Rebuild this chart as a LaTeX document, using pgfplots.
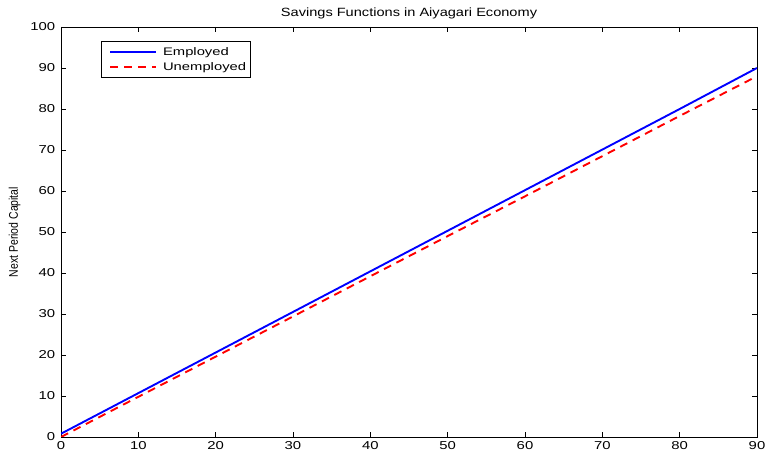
\documentclass[border=0pt]{standalone}
\usepackage{pgfplots}
\pgfplotsset{compat=1.18}
\usepackage{fontspec}
\setmainfont{Liberation Sans}
\definecolor{mblue}{rgb}{0,0,1}
\definecolor{mred}{rgb}{1,0,0}
\pgfplotsset{mylegline/.style={legend image code/.code={\path[draw=none, fill=none] (0bp,0bp) -- (58bp,0bp);\draw[#1, line width=2pt, line cap=butt] (7bp,0bp) -- (53bp,0bp);}}}
\begin{document}
\begin{tikzpicture}
\begin{axis}[
  scale only axis,
  width=696bp, height=410bp,
  xmin=0, xmax=90, ymin=0, ymax=100,
  xtick={0,10,...,90}, ytick={0,10,...,100},
  tick align=inside,
  major tick length=5bp,
  axis line style={line width=0.8pt},
  tick style={line width=0.5pt, black},
  /pgf/number format/assume math mode=true,
  ticklabel style={font=\fontsize{11.5}{13}\selectfont, xscale=1.3},
  yticklabel style={xshift=-1bp},
  xticklabel style={yshift=-1bp},
  title={Savings Functions in Aiyagari Economy},
  title style={font=\fontsize{12}{14}\selectfont, xscale=1.22, yshift=-1bp},
  ylabel={Next Period Capital},
  ylabel style={font=\fontsize{10.5}{12}\selectfont, yscale=1.2, yshift=1bp},
  legend style={at={(0.057,0.966)}, anchor=north west, draw=black, thick,
    font=\fontsize{11}{13}\selectfont, inner xsep=2pt, inner ysep=4pt, row sep=1.5pt,
    cells={anchor=west}},
  legend cell align=left,
  mylegline,
]
\addlegendimage{mylegline, color=mblue}
\addlegendentry{\scalebox{1.35}[1]{Employed}}
\addlegendimage{mylegline, color=mred, dash pattern=on 8bp off 6bp}
\addlegendentry{\scalebox{1.35}[1]{Unemployed}}
\addplot[forget plot, color=mblue, line width=1.9pt] coordinates {
  (0,0.8) (10,10.7) (20,20.6) (30,30.5) (40,40.4) (50,50.3) (60,60.2) (70,70.1) (80,80.0) (90,90.0)
};
\addplot[forget plot, color=mred, line width=1.9pt, dash pattern=on 8bp off 6bp] coordinates {
  (0,0) (10,9.8) (20,19.6) (30,29.4) (40,39.2) (50,49.0) (60,58.7) (70,68.5) (80,78.3) (90,88.0)
};
\end{axis}
\pgfresetboundingbox
\path[use as bounding box] (-61bp,-15bp) rectangle (723bp,437bp);
\end{tikzpicture}
\end{document}
